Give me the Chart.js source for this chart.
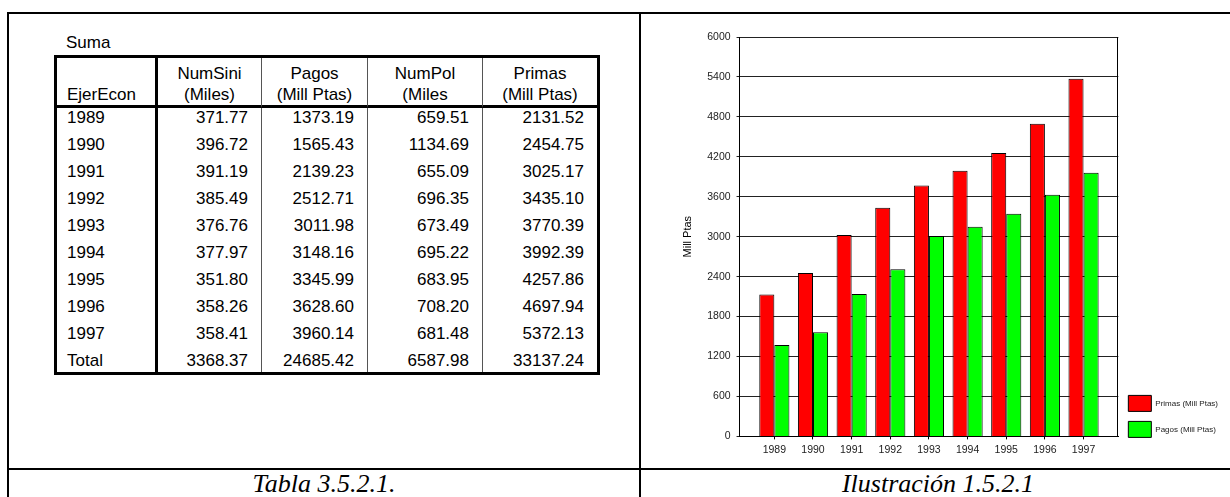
<!DOCTYPE html>
<html>
<head>
<meta charset="utf-8">
<title>Primas y Pagos 1989-1997</title>
<script src="https://cdn.jsdelivr.net/npm/chart.js@4.4.1/dist/chart.umd.min.js"></script>
<style>
  body { margin: 0; width: 1230px; height: 497px; overflow: hidden; background: #fff; position: relative;
         font-family: "Liberation Sans", Arial, sans-serif; color: #000; }
  .rule { position: absolute; background: #000; }
  .caption { position: absolute; top: 470px; height: 27px; line-height: 27px; text-align: center;
             font-family: "Liberation Serif", "Times New Roman", serif; font-style: italic; font-size: 26px; }
  #suma { position: absolute; left: 66px; top: 33px; font-size: 17px; line-height: 20px; }
  #tbl { position: absolute; left: 54px; top: 55px; width: 546px; table-layout: fixed;
         border-collapse: separate; border-spacing: 0; border: 3px solid #000; font-size: 17px; }
  #tbl th, #tbl td { box-sizing: border-box; padding: 0; border-right: 1px solid #555; }
  #tbl th { height: 50px; font-weight: normal; text-align: center; vertical-align: bottom;
            line-height: 21px; border-bottom: 3px solid #000; }
  #tbl td { height: 27px; line-height: 20px; vertical-align: top; text-align: right; padding-right: 13px; }
  #tbl tr.last td { height: 21px; }
  #tbl th:first-child, #tbl td:first-child { border-right: 3px solid #000; text-align: left; padding-left: 10px; padding-right: 0; }
  #tbl th:last-child, #tbl td:last-child { border-right: none; }
  #chartBox { position: absolute; left: 642px; top: 15px; width: 588px; height: 454px; }
</style>
</head>
<body>

<div class="rule" style="left:7px; top:12px; width:1240px; height:2px;"></div>
<div class="rule" style="left:7px; top:12px; width:2px; height:490px;"></div>
<div class="rule" style="left:639px; top:12px; width:2px; height:490px;"></div>
<div class="rule" style="left:7px; top:468px; width:1240px; height:2px;"></div>

<div id="suma">Suma</div>
<table id="tbl">
  <colgroup>
    <col style="width:101px"><col style="width:104px"><col style="width:106px"><col style="width:115px"><col style="width:114px">
  </colgroup>
  <thead>
    <tr>
      <th>EjerEcon</th><th>NumSini<br>(Miles)</th><th>Pagos<br>(Mill Ptas)</th><th>NumPol<br>(Miles</th><th>Primas<br>(Mill Ptas)</th>
    </tr>
  </thead>
  <tbody></tbody>
</table>

<div id="chartBox"><canvas id="primasChart"></canvas></div>

<div class="caption" style="left:9px; width:630px;">Tabla 3.5.2.1.</div>
<div class="caption" style="left:641px; width:594px;">Ilustración 1.5.2.1</div>

<script>
const years = [1989, 1990, 1991, 1992, 1993, 1994, 1995, 1996, 1997];
const numSini = [371.77, 396.72, 391.19, 385.49, 376.76, 377.97, 351.80, 358.26, 358.41];
const pagos = [1373.19, 1565.43, 2139.23, 2512.71, 3011.98, 3148.16, 3345.99, 3628.60, 3960.14];
const numPol = [659.51, 1134.69, 655.09, 696.35, 673.49, 695.22, 683.95, 708.20, 681.48];
const primas = [2131.52, 2454.75, 3025.17, 3435.10, 3770.39, 3992.39, 4257.86, 4697.94, 5372.13];
const totals = [3368.37, 24685.42, 6587.98, 33137.24];

// table
const tbody = document.querySelector('#tbl tbody');
years.forEach((y, i) => {
    const tr = document.createElement('tr');
    tr.innerHTML = '<td>' + y + '</td>' +
        [numSini[i], pagos[i], numPol[i], primas[i]].map(v => '<td>' + v.toFixed(2) + '</td>').join('');
    tbody.appendChild(tr);
});
const totalRow = document.createElement('tr');
totalRow.className = 'last';
totalRow.innerHTML = '<td>Total</td>' + totals.map(v => '<td>' + v.toFixed(2) + '</td>').join('');
tbody.appendChild(totalRow);

// chart
Chart.defaults.font.family = '"Liberation Sans", Arial, sans-serif';
Chart.defaults.color = '#222';

// right edge of the plot area
const plotFrame = {
    id: 'plotFrame',
    afterDatasetsDraw(chart) {
        const { ctx, chartArea: a } = chart;
        ctx.save();
        ctx.strokeStyle = '#000';
        ctx.lineWidth = 1;
        ctx.beginPath();
        ctx.moveTo(Math.round(a.right) - 0.5, a.top);
        ctx.lineTo(Math.round(a.right) - 0.5, a.bottom);
        ctx.stroke();
        ctx.restore();
    }
};

// legend sits level with the bottom of the plot
const legendDown = {
    id: 'legendDown',
    afterLayout(chart) {
        chart.legend.top += 11;
        chart.legend.bottom += 11;
    }
};

const ctx = document.getElementById('primasChart').getContext('2d');

new Chart(ctx, {
    type: 'bar',
    data: {
        datasets: [{
            label: 'Primas (Mill Ptas)',
            data: years.map((y, i) => ({ x: y, y: primas[i] })),
            backgroundColor: '#ff0000',
            borderColor: '#000',
            borderWidth: 1,
        }, {
            label: 'Pagos (Mill Ptas)',
            data: years.map((y, i) => ({ x: y, y: pagos[i] })),
            backgroundColor: '#00ff00',
            borderColor: '#000',
            borderWidth: 1,
        }]
    },
    options: {
        responsive: true,
        maintainAspectRatio: false,
        animation: false,
        categoryPercentage: 0.78,
        barPercentage: 1,
        layout: {
            padding: { left: 35, top: 22, bottom: 9, right: 2 }
        },
        plugins: {
            legend: {
                position: 'right',
                align: 'end',
                fullSize: false,
                labels: {
                    boxWidth: 23,
                    boxHeight: 16,
                    padding: 10,
                    font: { size: 8 },
                    color: '#222',
                },
            },
            tooltip: { enabled: false },
        },
        scales: {
            x: {
                type: 'linear',
                offset: false,
                min: years[0] - 0.9,
                max: years[years.length - 1] + 0.9,
                afterBuildTicks: axis => {
                    axis.ticks = years.map(v => ({ value: v }));
                },
                ticks: {
                    padding: 4,
                    maxRotation: 0,
                    autoSkip: false,
                    font: { size: 10.5 },
                    color: '#222',
                    callback: v => String(v),
                },
                grid: {
                    offset: false,
                    drawOnChartArea: false,
                    tickLength: 3,
                    color: '#000',
                },
                border: { color: '#000' },
            },
            y: {
                min: 0,
                max: 6000,
                ticks: {
                    stepSize: 600,
                    padding: 6,
                    font: { size: 10.5 },
                    color: '#222',
                    callback: v => String(v),
                },
                grid: {
                    tickLength: 3,
                    color: '#222',
                },
                border: { color: '#000' },
                title: {
                    display: true,
                    text: 'Mill Ptas',
                    font: { size: 11 },
                    color: '#000',
                    padding: { top: 4, bottom: 7 },
                },
            }
        }
    },
    plugins: [plotFrame, legendDown]
});
</script>
</body>
</html>
